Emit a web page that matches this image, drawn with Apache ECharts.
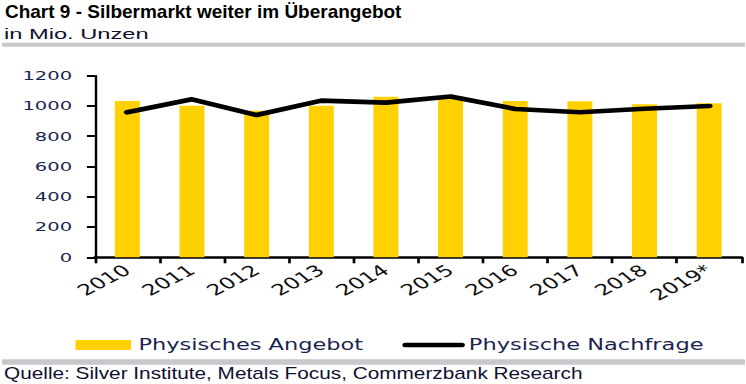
<!DOCTYPE html>
<html>
<head>
<meta charset="utf-8">
<script src="https://cdn.jsdelivr.net/npm/echarts@6/dist/echarts.min.js"></script>
<style>
html,body{margin:0;padding:0;background:#fff;overflow:hidden;width:746px;height:384px}
#wrap{width:746px;height:384px;position:relative;overflow:hidden;background:#fff}
#chart{position:absolute;left:0;top:0;width:497.333px;height:384px;transform:scaleX(1.5);transform-origin:0 0}
</style>
</head>
<body>
<div id="wrap"><div id="chart"></div></div>
<script>
// ---- data ----
const categories = ['2010','2011','2012','2013','2014','2015','2016','2017','2018','2019*'];
const supply = [1033, 1002, 969, 1002, 1061, 1062, 1033, 1031, 1011, 1018];   // Physisches Angebot
const demand = [958, 1044, 940, 1035, 1022, 1063, 980, 958, 982, 1000];       // Physische Nachfrage
const yMin = 0, yMax = 1200, yStep = 200;
const seriesNames = ['Physisches Angebot', 'Physische Nachfrage'];
const titleText = 'Chart 9 - Silbermarkt weiter im Überangebot';
const subtitleText = 'in Mio. Unzen';
const sourceText = 'Quelle: Silver Institute, Metals Focus, Commerzbank Research';

// the original picture is horizontally stretched; the chart is drawn in a
// narrower space and widened by SX with CSS
const SX = 1.5;
const X = v => v / SX;

const chart = echarts.init(document.getElementById('chart'), null, {renderer: 'svg'});
chart.setOption({
  animation: false,
  backgroundColor: '#fff',
  grid: {left: X(95), right: 497.333 - X(742), top: 75.7, bottom: 384 - 257.3, containLabel: false},
  legend: {
    left: X(68), top: 331,
    itemWidth: 37, itemHeight: 10, itemGap: 26,
    textStyle: {fontFamily: 'DejaVu Sans', fontSize: 15, color: '#1a2550', lineHeight: 18},
    data: [
      {name: seriesNames[0], icon: 'rect'},
      {name: seriesNames[1], itemStyle: {opacity: 0, color: 'rgba(0,0,0,0)', borderWidth: 0},
        lineStyle: {width: 4.7, color: '#000'}}
    ]
  },
  xAxis: {
    type: 'category',
    data: categories,
    boundaryGap: true,
    axisLine: {lineStyle: {color: '#000', width: 2.6}},
    axisTick: {show: true, length: 6, lineStyle: {color: '#000', width: 1.8}},
    axisLabel: {interval: 0, rotate: 38, margin: 11, fontFamily: 'DejaVu Sans', fontSize: 15.5, color: '#111'},
    splitLine: {show: false}
  },
  yAxis: {
    type: 'value', min: yMin, max: yMax, interval: yStep,
    axisLine: {show: true, lineStyle: {color: '#000', width: 1.6}},
    axisTick: {show: true, length: 5.4, lineStyle: {color: '#000', width: 2}},
    axisLabel: {margin: 15.3, fontFamily: 'DejaVu Sans', fontSize: 13, color: '#1a2550', formatter: v => String(v)},
    splitLine: {show: false}
  },
  series: [
    {
      name: seriesNames[0], type: 'bar', data: supply,
      barWidth: '38.6%',
      itemStyle: {color: '#ffd100'}
    },
    {
      name: seriesNames[1], type: 'line', data: demand,
      symbol: 'none',
      lineStyle: {color: '#000', width: 4.6, join: 'round', cap: 'round'},
      itemStyle: {color: '#000'},
      z: 5
    }
  ],
  graphic: [
    {type: 'rect', silent: true, shape: {x: X(2), y: 42.7, width: X(743), height: 4}, style: {fill: '#c9c6cc'}},
    {type: 'rect', silent: true, shape: {x: X(2), y: 359.3, width: X(743), height: 5.4}, style: {fill: '#c9c6cc'}},
    {type: 'text', silent: true, x: X(5), y: 11.7, scaleX: 1.026 / SX,
      style: {text: titleText, fontFamily: 'Liberation Sans', fontWeight: 'bold', fontSize: 18.5, fill: '#000', align: 'left', verticalAlign: 'middle'}},
    {type: 'text', silent: true, x: X(4), y: 34.3, scaleX: 1.69 / SX,
      style: {text: subtitleText, fontFamily: 'Liberation Sans', fontSize: 14, fill: '#101030', align: 'left', verticalAlign: 'middle'}},
    {type: 'text', silent: true, x: X(4), y: 373.7, scaleX: 1.316 / SX,
      style: {text: sourceText, fontFamily: 'Liberation Sans', fontSize: 15.8, fill: '#101030', align: 'left', verticalAlign: 'middle'}}
  ]
});
</script>
</body>
</html>
